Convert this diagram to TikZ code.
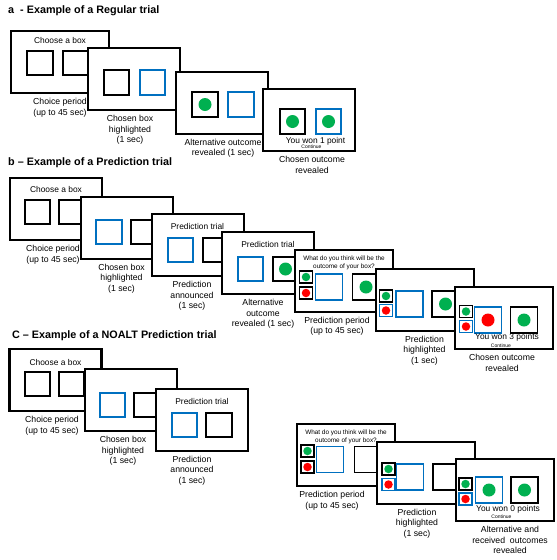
\documentclass[tikz,border=0pt]{standalone}
\usepackage{fontspec}
\setmainfont{Liberation Sans}
\usetikzlibrary{positioning}

\definecolor{boxblue}{HTML}{0070C0}
\definecolor{dotgreen}{HTML}{00B050}
\definecolor{dotred}{HTML}{FF0000}

\begin{document}
\begin{tikzpicture}[%
    x=1pt, y=1pt,
    on grid,
    screen/.style={draw, line width=2pt, fill=white, minimum width=92pt, minimum height=62pt, inner sep=0pt},
    wide/.style={screen, minimum width=98pt},
    first/.style={line width=2.7pt},
    box/.style={draw, line width=1.8pt, fill=white, minimum width=25.5pt, minimum height=24.5pt, inner sep=0pt},
    big/.style={box, minimum width=27pt, minimum height=26pt},
    mini/.style={box, line width=1.2pt, minimum width=13pt, minimum height=12pt},
    picked/.style={draw=boxblue},
    gdot/.style={circle, fill=dotgreen, inner sep=0pt, minimum size=13pt},
    rdot/.style={gdot, fill=dotred},
    sgdot/.style={gdot, minimum size=8.5pt},
    srdot/.style={rdot, minimum size=8.5pt},
    lbl/.style={align=center, anchor=north, inner sep=0pt, font=\fontsize{8.7}{10.5}\selectfont},
    scr/.style={align=center, inner sep=0pt, font=\fontsize{8.4}{10}\selectfont},
    ask/.style={align=center, inner sep=0pt, font=\fontsize{6.4}{8}\selectfont},
    cont/.style={inner sep=0pt, font=\fontsize{5}{6}\selectfont},
    head/.style={anchor=west, inner sep=0pt, font=\bfseries\fontsize{10.8}{13}\selectfont}
    ]

    \useasboundingbox (0,0) rectangle (557,-560);

    % a - regular trial
    \node[head] (ha) at (8,-11) {a\ \ - Example of a Regular trial};

    \node[wide, first] (a1) at (60,-62) {};
    \node[scr] (a1t) [above=22pt of a1] {Choose a box};
    \node[box] (a1L) [below left=1pt and 20pt of a1] {};
    \node[box] (a1R) [below right=1pt and 16pt of a1] {};
    \node[lbl] (a1n) at ([yshift=-4pt]a1.south) {Choice period\\(up to 45 sec)};

    \node[screen] (a2) [below right=17pt and 74pt of a1] {};
    \node[box] (a2L) [below left=3.5pt and 17.5pt of a2] {};
    \node[box, picked] (a2R) [below right=3.5pt and 18.5pt of a2] {};
    \node[lbl] (a2n) at ([xshift=-4pt, yshift=-4pt]a2.south) {Chosen box\\highlighted\\(1 sec)};

    \node[screen] (a3) [below right=23.5pt and 88pt of a2] {};
    \node[box] (a3L) [below left=2pt and 17pt of a3] {};
    \node[gdot] (a3Lg) at (a3L) {};
    \node[box, picked] (a3R) [below right=2pt and 19pt of a3] {};
    \node[lbl] (a3n) at ([xshift=1pt, yshift=-4pt]a3.south) {Alternative outcome\\revealed (1 sec)};

    \node[screen] (a4) [below right=17.5pt and 87pt of a3] {};
    \node[box] (a4L) [below left=1.5pt and 16.5pt of a4] {};
    \node[gdot] (a4Lg) at (a4L) {};
    \node[box, picked] (a4R) [below right=1.5pt and 19.5pt of a4] {};
    \node[gdot] (a4Rg) at (a4R) {};
    \node[scr] (a4t) [below right=21pt and 6.5pt of a4] {You won 1 point};
    \node[cont] (a4c) [below right=27pt and 2.5pt of a4] {Continue};
    \node[lbl] (a4n) at ([xshift=3pt, yshift=-4pt]a4.south) {Chosen outcome\\revealed};

    % b - prediction trial
    \node[head] (hb) at (8,-163) {b -- Example of a Prediction trial};

    \node[screen, first] (b1) at (56,-209) {};
    \node[scr] (b1t) [above=20pt of b1] {Choose a box};
    \node[box] (b1L) [below left=3pt and 18.5pt of b1] {};
    \node[box] (b1R) [below right=3pt and 15.5pt of b1] {};
    \node[lbl] (b1n) at ([xshift=-3pt, yshift=-4pt]b1.south) {Choice period\\(up to 45 sec)};

    \node[screen] (b2) [below right=18.5pt and 71pt of b1] {};
    \node[box, picked] (b2L) [below left=4.5pt and 18pt of b2] {};
    \node[box] (b2R) [below right=4.5pt and 17pt of b2] {};
    \node[lbl] (b2n) at ([xshift=-5.5pt, yshift=-4pt]b2.south) {Chosen box\\highlighted\\(1 sec)};

    \node[screen] (b3) [below right=17.5pt and 70.5pt of b2] {};
    \node[scr] (b3t) [above=19pt of b3] {Prediction trial};
    \node[box, picked] (b3L) [below left=5pt and 17pt of b3] {};
    \node[box] (b3R) [below right=5pt and 18pt of b3] {};
    \node[lbl] (b3n) at ([xshift=-5.5pt, yshift=-4pt]b3.south) {Prediction\\announced\\(1 sec)};

    \node[screen] (b4) [below right=18pt and 70.5pt of b3] {};
    \node[scr] (b4t) [above=19pt of b4] {Prediction trial};
    \node[box, picked] (b4L) [below left=6pt and 17.5pt of b4] {};
    \node[box] (b4R) [below right=6pt and 17.5pt of b4] {};
    \node[gdot] (b4Rg) at (b4R) {};
    \node[lbl] (b4n) at ([xshift=-5pt, yshift=-4pt]b4.south) {Alternative\\outcome\\revealed (1 sec)};

    \node[wide] (b5) [below right=17.5pt and 76pt of b4] {};
    \node[ask] (b5t) [above=18pt of b5] {What do you think will be the\\outcome of your box?};
    \node[mini] (b5G) [above left=3.5pt and 38pt of b5] {};
    \node[sgdot] (b5Gd) at (b5G) {};
    \node[mini] (b5R) [below left=12.5pt and 38pt of b5] {};
    \node[srdot] (b5Rd) at (b5R) {};
    \node[big, picked] (b5L) [below left=6.5pt and 15pt of b5] {};
    \node[big] (b5A) [below right=6.5pt and 22pt of b5] {};
    \node[gdot] (b5Ag) at (b5A) {};
    \node[lbl] (b5n) at ([xshift=-7pt, yshift=-4pt]b5.south) {Prediction period\\(up to 45 sec)};

    \node[wide] (b6) [below right=19pt and 80.5pt of b5] {};
    \node[mini] (b6G) [above left=3.5pt and 38.5pt of b6] {};
    \node[sgdot] (b6Gd) at (b6G) {};
    \node[mini, picked] (b6R) [below left=11pt and 38.5pt of b6] {};
    \node[srdot] (b6Rd) at (b6R) {};
    \node[big, picked] (b6L) [below left=4.5pt and 15pt of b6] {};
    \node[big] (b6A) [below right=4.5pt and 21pt of b6] {};
    \node[gdot] (b6Ag) at (b6A) {};
    \node[lbl] (b6n) at ([yshift=-4pt]b6.south) {Prediction\\highlighted\\(1 sec)};

    \node[wide] (b7) [below right=18.5pt and 79.5pt of b6] {};
    \node[mini] (b7G) [above left=6.5pt and 38pt of b7] {};
    \node[sgdot] (b7Gd) at (b7G) {};
    \node[mini, picked] (b7R) [below left=8.5pt and 38pt of b7] {};
    \node[srdot] (b7Rd) at (b7R) {};
    \node[big, picked] (b7L) [below left=2pt and 16pt of b7] {};
    \node[rdot] (b7Lr) at (b7L) {};
    \node[big] (b7A) [below right=2pt and 20pt of b7] {};
    \node[gdot] (b7Ag) at (b7A) {};
    \node[scr] (b7t) [below right=19pt and 3pt of b7] {You won 3 points};
    \node[cont] (b7c) [below left=28pt and 3pt of b7] {Continue};
    \node[lbl] (b7n) at ([xshift=-2pt, yshift=-4pt]b7.south) {Chosen outcome\\revealed};

    % c - NOALT prediction trial
    \node[head] (hc) at (12,-336) {C -- Example of a NOALT Prediction trial};

    \node[screen, first] (c1) at (55.5,-380) {};
    \node[scr] (c1t) [above=18pt of c1] {Choose a box};
    \node[box] (c1L) [below left=4pt and 18pt of c1] {};
    \node[box] (c1R) [below right=4pt and 16pt of c1] {};
    \node[lbl] (c1n) at ([xshift=-3.5pt, yshift=-4pt]c1.south) {Choice period\\(up to 45 sec)};

    \node[screen] (c2) [below right=20pt and 75pt of c1] {};
    \node[box, picked] (c2L) [below left=5pt and 18pt of c2] {};
    \node[box] (c2R) [below right=5pt and 16pt of c2] {};
    \node[lbl] (c2n) at ([xshift=-7.5pt, yshift=-4pt]c2.south) {Chosen box\\highlighted\\(1 sec)};

    \node[screen] (c3) [below right=19.5pt and 71.5pt of c2] {};
    \node[scr] (c3t) [above=18.5pt of c3] {Prediction trial};
    \node[box, picked] (c3L) [below left=5.5pt and 17.5pt of c3] {};
    \node[box] (c3R) [below right=5.5pt and 17pt of c3] {};
    \node[lbl] (c3n) at ([xshift=-10pt, yshift=-4pt]c3.south) {Prediction\\announced\\(1 sec)};

    \node[wide] (c4) at (346,-455) {};
    \node[ask] (c4t) [above=18pt of c4] {What do you think will be the\\outcome of your box?};
    \node[mini] (c4G) [above left=4pt and 38.5pt of c4] {};
    \node[sgdot] (c4Gd) at (c4G) {};
    \node[mini] (c4R) [below left=12pt and 38.5pt of c4] {};
    \node[srdot] (c4Rd) at (c4R) {};
    \node[big, picked] (c4L) [below left=4.5pt and 16pt of c4] {};
    \node[big] (c4A) [below right=4.5pt and 22pt of c4] {};
    \node[lbl] (c4n) at ([xshift=-14pt, yshift=-4pt]c4.south) {Prediction period\\(up to 45 sec)};

    \node[wide] (c5) [below right=17.5pt and 80pt of c4] {};
    \node[mini] (c5G) [above left=3.5pt and 37.5pt of c5] {};
    \node[sgdot] (c5Gd) at (c5G) {};
    \node[mini, picked] (c5R) [below left=12pt and 37.5pt of c5] {};
    \node[srdot] (c5Rd) at (c5R) {};
    \node[big, picked] (c5L) [below left=4.5pt and 16pt of c5] {};
    \node[big] (c5A) [below right=4.5pt and 20.5pt of c5] {};
    \node[lbl] (c5n) at ([xshift=-9pt, yshift=-4pt]c5.south) {Prediction\\highlighted\\(1 sec)};

    \node[wide] (c6) [below right=17.5pt and 78.5pt of c5] {};
    \node[mini] (c6G) [above left=6pt and 39pt of c6] {};
    \node[sgdot] (c6Gd) at (c6G) {};
    \node[mini, picked] (c6R) [below left=9pt and 39pt of c6] {};
    \node[srdot] (c6Rd) at (c6R) {};
    \node[big, picked] (c6L) [left=15.5pt of c6] {};
    \node[gdot] (c6Lg) at (c6L) {};
    \node[big] (c6A) [right=20pt of c6] {};
    \node[gdot] (c6Ag) at (c6A) {};
    \node[scr] (c6t) [below right=19pt and 3.5pt of c6] {You won 0 points};
    \node[cont] (c6c) [below left=27pt and 3pt of c6] {Continue};
    \node[lbl] (c6n) at ([xshift=5.5pt, yshift=-4pt]c6.south) {Alternative and\\received\ \ outcomes\\revealed};

\end{tikzpicture}
\end{document}
